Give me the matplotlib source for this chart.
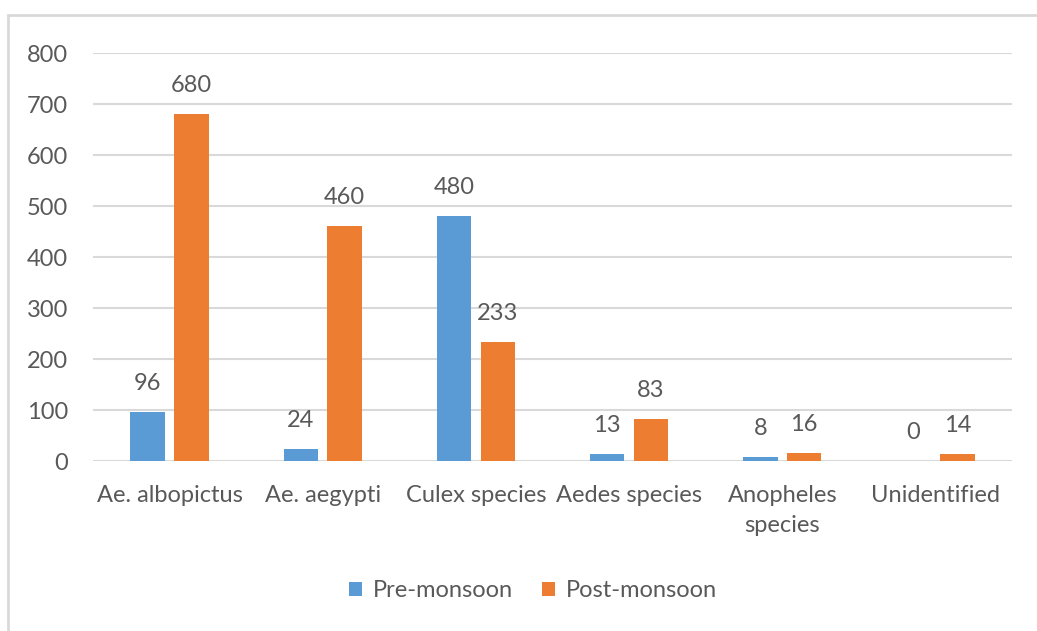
import matplotlib.pyplot as plt
import numpy as np
from matplotlib.patches import Rectangle

plt.rcParams['font.family'] = ['Lato', 'DejaVu Sans']

species = ["Ae. albopictus", "Ae. aegypti", "Culex species", "Aedes species",
           "Anopheles\nspecies", "Unidentified"]
pre_monsoon = [96, 24, 480, 13, 8, 0]
post_monsoon = [680, 460, 233, 83, 16, 14]
yticks = [0, 100, 200, 300, 400, 500, 600, 700, 800]

blue = "#5B9BD5"
orange = "#ED7D31"
txt = "#595959"

fig = plt.figure(figsize=(10.37, 6.31), dpi=100)
ax = fig.add_axes([0.0897, 0.2694, 0.8863, 0.6466])

x = np.arange(len(species))
w = 0.225
off = 0.143
b1 = ax.bar(x - off, pre_monsoon, w, color=blue, label="Pre-monsoon", zorder=3)
b2 = ax.bar(x + off, post_monsoon, w, color=orange, label="Post-monsoon", zorder=3)

for bars in (b1, b2):
    for r in bars:
        h = r.get_height()
        ax.annotate(str(int(h)), (r.get_x() + r.get_width() / 2, h),
                    xytext=(0, 13), textcoords="offset points",
                    ha="center", va="bottom", fontsize=17, color=txt)

ax.set_xlim(-0.5, len(species) - 0.5)
ax.set_ylim(0, 800)
ax.set_yticks(yticks)
ax.set_xticks(x)
ax.set_xticklabels(species, linespacing=1.55)
ax.tick_params(axis="both", length=0, labelsize=17, colors=txt)
ax.tick_params(axis="x", pad=17)
ax.tick_params(axis="y", pad=18)
ax.grid(axis="y", color="#D9D9D9", linewidth=1.5, zorder=0)
for s in ax.spines.values():
    s.set_visible(False)

fig.legend(handles=[b1, b2], loc="center", bbox_to_anchor=(0.514, 0.064),
           ncol=2, frameon=False, fontsize=17, labelcolor=txt,
           handlelength=0.55, handleheight=0.55, columnspacing=1.25, handletextpad=0.45)

# light frame around the chart area
fig.patches.append(Rectangle((8 / 1037, -0.1), 1.2, 1 - 15 / 631 + 0.1,
                             transform=fig.transFigure, fill=False,
                             edgecolor="#D9D9D9", linewidth=2))

fig.savefig("out.png", dpi=100)
